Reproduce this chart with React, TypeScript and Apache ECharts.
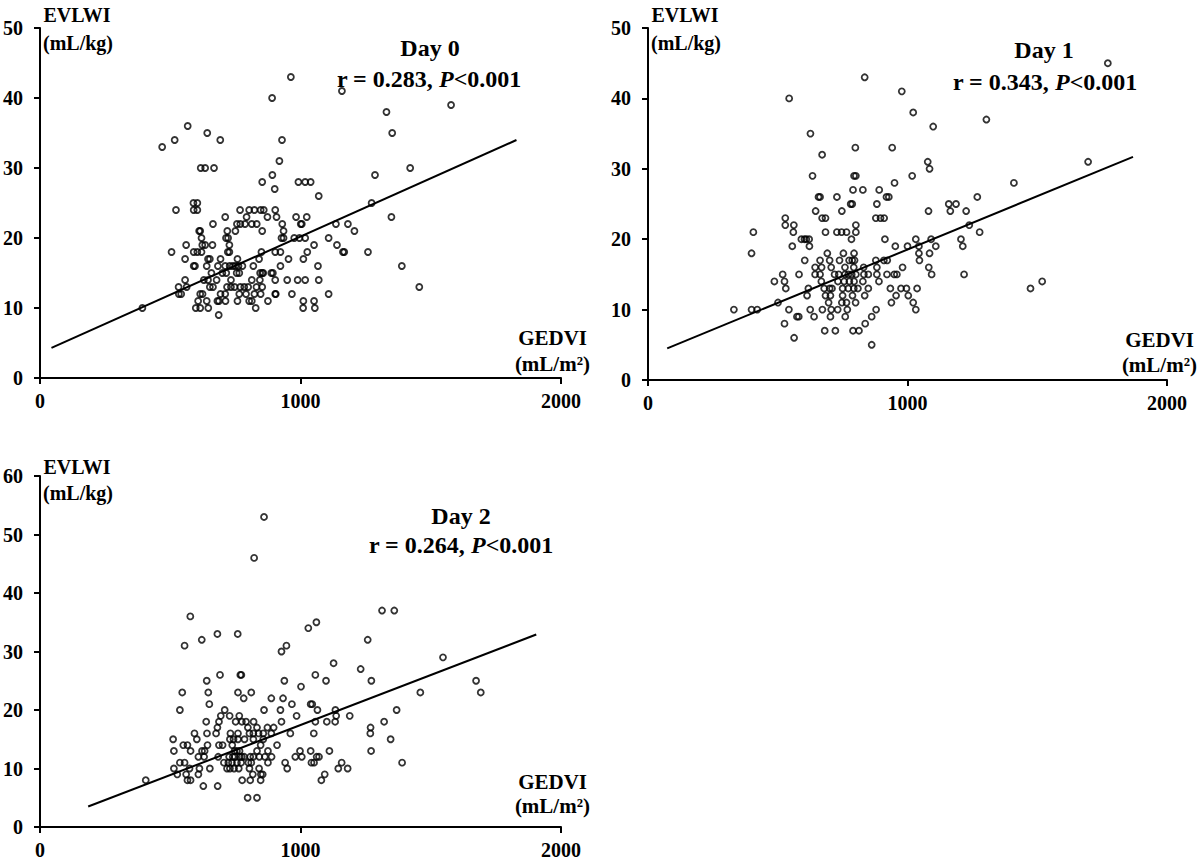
import React, { useEffect, useRef } from "react";
import * as echarts from "echarts";

// ---- Data (GEDVI mL/m², EVLWI mL/kg) ----
const day0Points: [number, number][] = [
  [963, 43], [1159, 41], [891, 40], [1578, 39], [1330, 38], [567, 36], [642, 35], [1352, 35],
  [517, 34], [692, 34], [929, 34], [469, 33], [919, 31], [617, 30], [634, 30], [668, 30], [1421, 30],
  [892, 29], [1286, 29], [853, 28], [992, 28], [1018, 28], [1039, 28], [901, 27], [1070, 26],
  [589, 25], [604, 25], [1273, 25],
  [522, 24], [590, 24], [604, 24], [768, 24], [803, 24], [823, 24], [847, 24], [859, 24], [903, 24],
  [711, 23], [793, 23], [873, 23], [908, 23], [983, 23], [1024, 23], [1349, 23],
  [664, 22], [756, 22], [769, 22], [787, 22], [813, 22], [832, 22], [930, 22], [1001, 22], [1005, 22], [1136, 22], [1182, 22],
  [611, 21], [615, 21], [719, 21], [750, 21], [853, 21], [935, 21], [1207, 21],
  [620, 20], [714, 20], [722, 20], [927, 20], [935, 20], [976, 20], [996, 20], [1018, 20], [1108, 20],
  [561, 19], [623, 19], [634, 19], [662, 19], [727, 19], [1052, 19], [1140, 19],
  [505, 18], [590, 18], [604, 18], [620, 18], [721, 18], [727, 18], [850, 18], [903, 18], [923, 18], [1026, 18], [1163, 18], [1168, 18], [1259, 18],
  [557, 17], [645, 17], [652, 17], [693, 17], [758, 17], [841, 17], [954, 17], [1011, 17],
  [590, 16], [595, 16], [640, 16], [683, 16], [711, 16], [728, 16], [740, 16], [750, 16], [762, 16], [777, 16], [819, 16], [923, 16], [1067, 16], [1389, 16],
  [658, 15], [700, 15], [715, 15], [755, 15], [765, 15], [845, 15], [853, 15], [857, 15], [888, 15], [894, 15],
  [557, 14], [629, 14], [645, 14], [678, 14], [733, 14], [813, 14], [844, 14], [903, 14], [949, 14], [989, 14], [1018, 14], [1070, 14],
  [532, 13], [563, 13], [652, 13], [664, 13], [718, 13], [733, 13], [747, 13], [769, 13], [784, 13], [799, 13], [831, 13], [853, 13], [1456, 13],
  [533, 12], [542, 12], [615, 12], [624, 12], [693, 12], [711, 12], [765, 12], [791, 12], [823, 12], [847, 12], [903, 12], [905, 12], [967, 12], [1108, 12],
  [607, 11], [640, 11], [681, 11], [687, 11], [712, 11], [758, 11], [803, 11], [813, 11], [875, 11], [1011, 11], [1052, 11],
  [393, 10], [598, 10], [615, 10], [646, 10], [828, 10], [1010, 10], [1055, 10],
  [686, 9],
];

const day1Points: [number, number][] = [
  [1772, 45], [835, 43], [978, 41], [544, 40], [1022, 38], [1304, 37], [1099, 36], [626, 35],
  [799, 33], [941, 33], [671, 32], [1078, 31], [1696, 31], [1085, 30],
  [634, 29], [794, 29], [801, 29], [1018, 29], [950, 28], [1410, 28], [790, 27], [828, 27], [891, 27],
  [657, 26], [663, 26], [728, 26], [919, 26], [928, 26], [1269, 26],
  [781, 25], [787, 25], [882, 25], [1159, 25], [1187, 25],
  [646, 24], [747, 24], [1081, 24], [1165, 24], [1226, 24],
  [529, 23], [671, 23], [684, 23], [878, 23], [896, 23], [910, 23],
  [529, 22], [562, 22], [801, 22], [1238, 22],
  [406, 21], [560, 21], [684, 21], [728, 21], [746, 21], [765, 21], [801, 21], [1278, 21],
  [591, 20], [603, 20], [610, 20], [621, 20], [784, 20], [913, 20], [1032, 20], [1091, 20], [1206, 20],
  [556, 19], [622, 19], [953, 19], [1000, 19], [1044, 19], [1109, 19], [1213, 19],
  [399, 18], [691, 18], [753, 18], [794, 18], [1044, 18], [1085, 18],
  [604, 17], [663, 17], [700, 17], [738, 17], [775, 17], [787, 17], [796, 17], [878, 17], [909, 17], [922, 17], [1046, 17],
  [644, 16], [669, 16], [706, 16], [759, 16], [793, 16], [831, 16], [882, 16], [981, 16], [1082, 16],
  [519, 15], [582, 15], [644, 15], [663, 15], [719, 15], [735, 15], [759, 15], [772, 15], [785, 15], [801, 15], [832, 15], [849, 15], [882, 15], [921, 15], [949, 15], [959, 15], [1093, 15], [1218, 15],
  [487, 14], [526, 14], [668, 14], [732, 14], [756, 14], [776, 14], [794, 14], [828, 14], [890, 14], [1519, 14],
  [531, 13], [618, 13], [679, 13], [700, 13], [709, 13], [750, 13], [772, 13], [793, 13], [809, 13], [849, 13], [934, 13], [975, 13], [996, 13], [1037, 13], [1474, 13],
  [613, 12], [684, 12], [703, 12], [750, 12], [788, 12], [835, 12], [956, 12], [1003, 12],
  [501, 11], [696, 11], [747, 11], [765, 11], [800, 11], [938, 11], [1022, 11],
  [331, 10], [399, 10], [421, 10], [543, 10], [625, 10], [672, 10], [706, 10], [731, 10], [768, 10], [879, 10], [1032, 10],
  [574, 9], [581, 9], [640, 9], [703, 9], [760, 9], [862, 9],
  [526, 8], [837, 8], [681, 7], [722, 7], [790, 7], [813, 7], [563, 6], [862, 5],
];

const day2Points: [number, number][] = [
  [860, 53], [822, 46], [1313, 37], [1360, 37], [577, 36], [1061, 35], [1030, 34], [681, 33], [759, 33],
  [621, 32], [1258, 32], [555, 31], [946, 31], [927, 30], [1547, 29], [1127, 28], [1231, 27],
  [691, 26], [769, 26], [773, 26], [1057, 26],
  [640, 25], [938, 25], [1098, 25], [1272, 25], [1674, 25], [1002, 24],
  [546, 23], [646, 23], [760, 23], [811, 23], [1460, 23], [1692, 23],
  [782, 22], [888, 22], [933, 22], [650, 21], [967, 21], [1039, 21], [1045, 21],
  [537, 20], [709, 20], [860, 20], [923, 20], [1065, 20], [1134, 20], [1369, 20],
  [694, 19], [728, 19], [765, 19], [985, 19], [1137, 19], [1189, 19],
  [638, 18], [687, 18], [751, 18], [775, 18], [791, 18], [820, 18], [927, 18], [1057, 18], [1101, 18], [1133, 18], [1321, 18],
  [681, 17], [798, 17], [833, 17], [873, 17], [897, 17], [1269, 17],
  [593, 16], [641, 16], [676, 16], [731, 16], [760, 16], [804, 16], [819, 16], [839, 16], [857, 16], [888, 16], [961, 16], [1051, 16], [1268, 16],
  [511, 15], [602, 15], [729, 15], [743, 15], [760, 15], [785, 15], [819, 15], [857, 15], [1346, 15],
  [550, 14], [566, 14], [643, 14], [687, 14], [701, 14], [738, 14], [847, 14], [910, 14],
  [514, 13], [578, 13], [622, 13], [632, 13], [747, 13], [756, 13], [766, 13], [833, 13], [875, 13], [998, 13], [1039, 13], [1111, 13], [1271, 13],
  [608, 12], [630, 12], [684, 12], [726, 12], [740, 12], [748, 12], [767, 12], [775, 12], [784, 12], [807, 12], [819, 12], [842, 12], [863, 12], [889, 12], [980, 12], [1005, 12], [1062, 12], [1071, 12],
  [537, 11], [555, 11], [706, 11], [723, 11], [737, 11], [756, 11], [772, 11], [800, 11], [811, 11], [875, 11], [941, 11], [1042, 11], [1052, 11], [1158, 11], [1390, 11],
  [514, 10], [574, 10], [612, 10], [652, 10], [718, 10], [729, 10], [745, 10], [763, 10], [804, 10], [841, 10], [949, 10], [1145, 10], [1181, 10],
  [527, 9], [561, 9], [608, 9], [817, 9], [848, 9], [855, 9], [1093, 9],
  [406, 8], [566, 8], [578, 8], [776, 8], [807, 8], [847, 8], [1080, 8],
  [627, 7], [682, 7], [797, 5], [833, 5],
];

// Regression line end points
const day0Fit: [number, number][] = [[44, 4.3], [1829, 34.0]];
const day1Fit: [number, number][] = [[74, 4.5], [1869, 31.7]];
const day2Fit: [number, number][] = [[185, 3.5], [1905, 32.9]];

const panelTitles = ["Day 0", "Day 1", "Day 2"];
const panelR = ["0.283", "0.343", "0.264"];
const yMaxes = [50, 50, 60];
const xTicks = { min: 0, max: 2000, interval: 1000 };

const FONT = "'Times New Roman', 'Liberation Serif', serif";

export default function App() {
  const ref = useRef<HTMLDivElement>(null);

  useEffect(() => {
    if (!ref.current) return;
    const chart = echarts.init(ref.current, undefined, { renderer: "svg" });

    const grids = [
      { left: 39, top: 28, width: 522, height: 350 },
      { left: 648, top: 28, width: 519, height: 352 },
      { left: 39, top: 476, width: 522, height: 351 },
    ];

    const xAxes = grids.map((_, i) => ({
      type: "value",
      gridIndex: i,
      min: xTicks.min,
      max: xTicks.max,
      interval: xTicks.interval,
      axisLine: { show: true, onZero: false, lineStyle: { color: "#000", width: 2 } },
      axisTick: { show: true, inside: false, length: 6, lineStyle: { color: "#000", width: 2 } },
      axisLabel: {
        color: "#000",
        fontSize: 20,
        fontWeight: "bold",
        fontFamily: FONT,
        margin: 13,
        formatter: (v: number) => String(v),
      },
      splitLine: { show: false },
    }));

    const yAxes = grids.map((_, i) => ({
      type: "value",
      gridIndex: i,
      min: 0,
      max: yMaxes[i],
      interval: 10,
      axisLine: { show: true, onZero: false, lineStyle: { color: "#000", width: 2 } },
      axisTick: { show: true, inside: false, length: 6, lineStyle: { color: "#000", width: 2 } },
      axisLabel: {
        color: "#000",
        fontSize: 20,
        fontWeight: "bold",
        fontFamily: FONT,
        margin: 17,
        formatter: (v: number) => String(v),
      },
      splitLine: { show: false },
    }));

    const pointSets = [day0Points, day1Points, day2Points];
    const fits = [day0Fit, day1Fit, day2Fit];

    const series: any[] = [];
    pointSets.forEach((pts, i) => {
      series.push({
        type: "scatter",
        xAxisIndex: i,
        yAxisIndex: i,
        data: pts,
        symbol: "circle",
        symbolSize: 6,
        itemStyle: { color: "rgba(0,0,0,0)", borderColor: "#000", borderWidth: 1.8 },
        silent: true,
      });
      series.push({
        type: "line",
        xAxisIndex: i,
        yAxisIndex: i,
        data: fits[i],
        symbol: "none",
        lineStyle: { color: "#000", width: 2 },
        silent: true,
      });
    });

    const bold = (size: number) => `bold ${size}px ${FONT}`;
    const txt = (text: string, x: number, y: number, size: number, align = "center") => ({
      type: "text",
      x,
      y,
      silent: true,
      style: { text, font: bold(size), fill: "#000", textAlign: align, textVerticalAlign: "middle" },
    });
    const rTxt = (r: string, x: number, y: number) => ({
      type: "text",
      x,
      y,
      silent: true,
      style: {
        text: `{b|r = ${r}, }{i|P}{b|<0.001}`,
        textAlign: "center",
        textVerticalAlign: "middle",
        fill: "#000",
        rich: {
          b: { font: bold(24), fill: "#000" },
          i: { font: `italic bold 24px ${FONT}`, fill: "#000" },
        },
      },
    });

    const graphic = [
      // Panel Day 0
      txt("EVLWI", 77, 15, 20),
      txt("(mL/kg)", 78, 43, 20),
      txt(panelTitles[0], 430, 48, 24),
      rTxt(panelR[0], 429, 79),
      txt("GEDVI", 587, 338, 21, "right"),
      txt("(mL/m²)", 590, 364, 21, "right"),
      // Panel Day 1
      txt("EVLWI", 685, 15, 20),
      txt("(mL/kg)", 686, 43, 20),
      txt(panelTitles[1], 1044, 50, 24),
      rTxt(panelR[1], 1045, 82),
      txt("GEDVI", 1194, 340, 21, "right"),
      txt("(mL/m²)", 1197, 365, 21, "right"),
      // Panel Day 2
      txt("EVLWI", 77, 467, 20),
      txt("(mL/kg)", 78, 493, 20),
      txt(panelTitles[2], 461, 516, 24),
      rTxt(panelR[2], 461, 545),
      txt("GEDVI", 587, 782, 21, "right"),
      txt("(mL/m²)", 590, 806, 21, "right"),
    ];

    chart.setOption({
      animation: false,
      backgroundColor: "#fff",
      grid: grids,
      xAxis: xAxes,
      yAxis: yAxes,
      series,
      graphic,
    });

    return () => chart.dispose();
  }, []);

  return (
    <div
      ref={ref}
      style={{ position: "absolute", left: 0, top: 0, width: 1200, height: 862, background: "#fff" }}
    />
  );
}
